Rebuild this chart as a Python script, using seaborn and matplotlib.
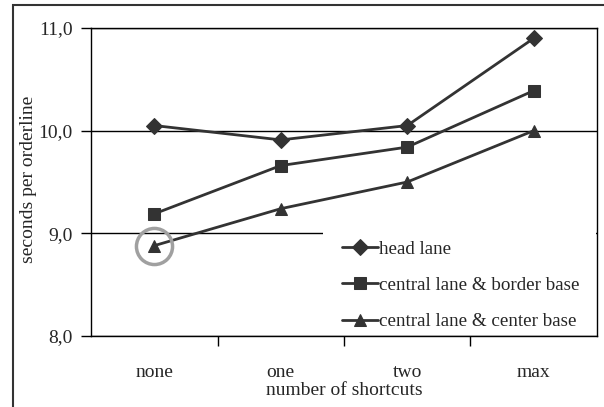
import pandas as pd
import matplotlib.pyplot as plt
import matplotlib.patches as mpatches
from matplotlib.transforms import Bbox
import seaborn as sns

shortcuts = ['none', 'one', 'two', 'max']
head_lane = [10.05, 9.91, 10.05, 10.90]
border_base = [9.19, 9.66, 9.84, 10.39]
center_base = [8.88, 9.24, 9.50, 10.00]
series_names = ['head lane', 'central lane & border base', 'central lane & center base']

df = pd.DataFrame({
    'shortcuts': shortcuts * 3,
    'seconds': head_lane + border_base + center_base,
    'layout': [n for n in series_names for _ in shortcuts],
})

sns.set_style('white')
plt.rcParams['font.family'] = ['Liberation Serif', 'DejaVu Serif']
fs = 14

fig = plt.figure(figsize=(6.04, 4.07), dpi=100)
ax = fig.add_axes([91/604, 1-336/407, 506/604, 308/407])

line_col = '#333333'
sns.lineplot(ax=ax, data=df, x='shortcuts', y='seconds', hue='layout', style='layout',
             palette=[line_col]*3, markers=['D', 's', '^'], dashes=False,
             markersize=8, linewidth=2, markeredgecolor=line_col, sort=False)

ax.set_xlim(-0.5, 3.5)
ax.set_ylim(8.0, 11.0)
ax.set_yticks([8, 9, 10, 11])
ax.set_yticklabels(['8,0', '9,0', '10,0', '11,0'], fontsize=fs)
ax.set_xticks([0, 1, 2, 3])
ax.set_xticklabels(shortcuts, fontsize=fs)
ax.set_xticks([0.5, 1.5, 2.5], minor=True)
ax.tick_params(axis='x', which='major', length=0, pad=20)
ax.tick_params(axis='x', which='minor', length=7, width=1, color='black', direction='out', bottom=True)
ax.tick_params(axis='y', length=7, width=1, color='black', direction='out', left=True, pad=6)
for s in ax.spines.values():
    s.set_color('black')
    s.set_linewidth(1)
ax.grid(axis='y', color='black', linewidth=1)
ax.set_axisbelow(True)

ax.set_xlabel('number of shortcuts', fontsize=fs, labelpad=1)
yl = ax.set_ylabel('seconds per orderline', fontsize=fs)
ax.yaxis.set_label_coords(-0.107, 0.51)
# the original label is cut off at its top end
yl.set_clip_on(True)
yl.set_clip_box(Bbox.from_extents(0, 0, 604, 407 - 95))

# grey circle around the first center-base point
ax.plot([0], [8.88], marker='o', markersize=26, markerfacecolor='none',
        markeredgecolor='#a0a0a0', markeredgewidth=2.5, zorder=5)

# white legend area hiding the gridline
ax.add_patch(mpatches.Rectangle((0.458, 0.003), 0.54, 0.367, transform=ax.transAxes,
                                facecolor='white', edgecolor='none', zorder=1.5))

handles, labels = ax.get_legend_handles_labels()
leg = ax.legend(handles, labels, loc='lower left', bbox_to_anchor=(0.485, 0.0),
                fontsize=13.7, frameon=False,
                handlelength=1.9, handletextpad=0.05, labelspacing=1.0,
                borderpad=0.3, borderaxespad=0)

# outer chart border
fig.patches.append(mpatches.Rectangle((13/604, -0.1), 1.2, 1.1 - 5/407, transform=fig.transFigure,
                                      fill=False, edgecolor='#333333', linewidth=1.5))

fig.savefig('out.png', dpi=100)
